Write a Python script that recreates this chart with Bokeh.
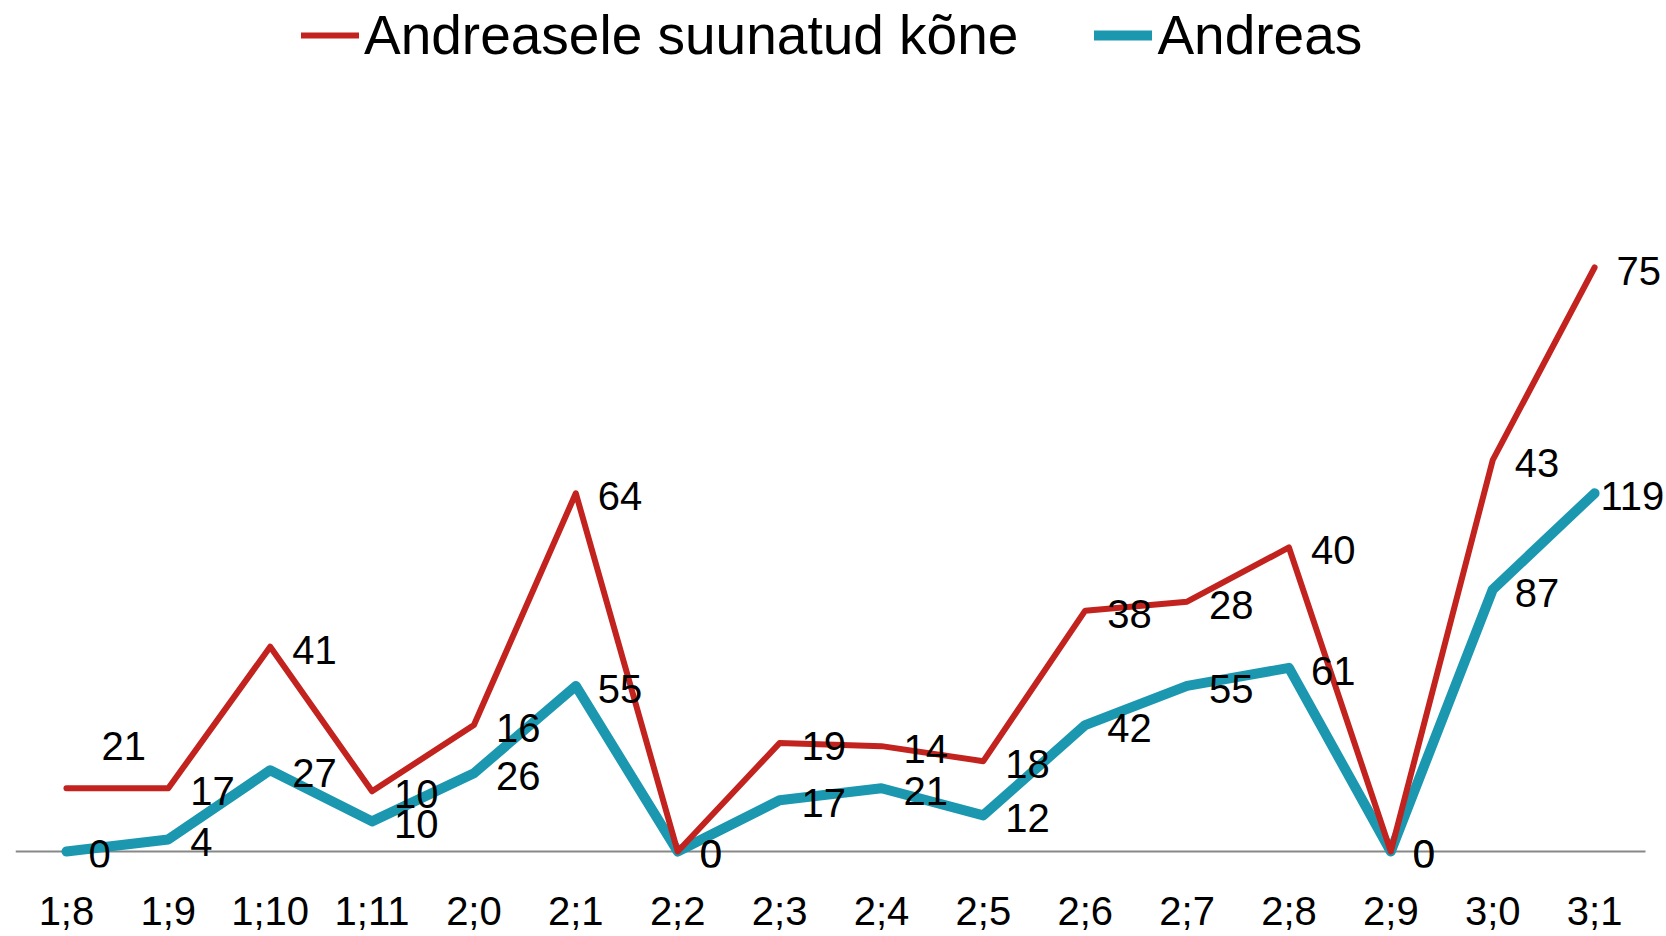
from bokeh.plotting import figure
from bokeh.models import Range1d, ColumnDataSource, Legend, LegendItem, FixedTicker
from bokeh.core.properties import value
from bokeh.embed import file_html
from bokeh.resources import INLINE

categories = ["1;8", "1;9", "1;10", "1;11", "2;0", "2;1", "2;2", "2;3",
              "2;4", "2;5", "2;6", "2;7", "2;8", "2;9", "3;0", "3;1"]
andreas = [0, 4, 27, 10, 26, 55, 0, 17, 21, 12, 42, 55, 61, 0, 87, 119]
directed = [21, 17, 41, 10, 16, 64, 0, 19, 14, 18, 38, 28, 40, 0, 43, 75]

RED = "#C3231E"
TEAL = "#1B98B0"
FONT = "Liberation Sans"

n = len(categories)
xs = list(range(n))
# stacked line chart: second series drawn on top of the first
stacked = [a + d for a, d in zip(andreas, directed)]

p = figure(width=1666, height=936,
           x_range=Range1d(-0.5, 15.706),
           y_range=Range1d(-5.32, 282.7),
           output_backend="svg", toolbar_location=None,
           min_border_left=15, min_border_right=0,
           min_border_top=0, min_border_bottom=69)
p.outline_line_color = None
p.xgrid.visible = False
p.ygrid.visible = False
p.yaxis.visible = False
p.xaxis.ticker = FixedTicker(ticks=xs)
p.xaxis.major_label_overrides = {i: c for i, c in zip(xs, categories)}
p.xaxis.axis_line_color = None
p.xaxis.major_tick_line_color = None
p.xaxis.minor_tick_line_color = None
p.xaxis.major_tick_out = 0
p.xaxis.minor_tick_out = 0
p.xaxis.major_label_text_font = FONT
p.xaxis.major_label_text_font_size = "40px"
p.xaxis.major_label_text_color = "black"
p.xaxis.major_label_standoff = 21

# category axis line at zero
p.segment(x0=[-0.5], x1=[n - 0.5], y0=[0], y1=[0],
          line_color="#888888", line_width=2)

src_a = ColumnDataSource(dict(x=xs, y=andreas))
src_d = ColumnDataSource(dict(x=xs, y=stacked))

r_teal = p.line("x", "y", source=src_a, line_color=TEAL, line_width=10,
                line_join="round", line_cap="round")
r_red = p.line("x", "y", source=src_d, line_color=RED, line_width=6,
               line_join="round", line_cap="round")

# data labels to the right of each point
xo_a = [22] * n
yo_a = [3] * n
xo_d = [22] * n
yo_d = [3] * n
xo_d[0] = 35
yo_d[0] = -42
xo_a[-1] = 6

lab_a = ColumnDataSource(dict(x=xs, y=andreas, t=[str(v) for v in andreas],
                              xo=xo_a, yo=yo_a))
lab_d = ColumnDataSource(dict(x=xs, y=stacked, t=[str(v) for v in directed],
                              xo=xo_d, yo=yo_d))
for s in (lab_a, lab_d):
    p.text("x", "y", text="t", source=s, x_offset="xo", y_offset="yo",
           text_font=value(FONT), text_font_size="40px", text_color="black",
           text_align="left", text_baseline="middle")

legend = Legend(items=[LegendItem(label="Andreasele suunatud kõne", renderers=[r_red]),
                       LegendItem(label="Andreas", renderers=[r_teal])],
                orientation="horizontal", location=(286, 867 - 70),
                label_text_font=FONT, label_text_font_size="55px",
                label_text_color="black",
                glyph_width=58, glyph_height=54, label_height=70, label_standoff=5,
                spacing=76, padding=0, margin=0,
                border_line_color=None, background_fill_alpha=0)
p.add_layout(legend)

open("out.html", "w").write(file_html(p, INLINE))
